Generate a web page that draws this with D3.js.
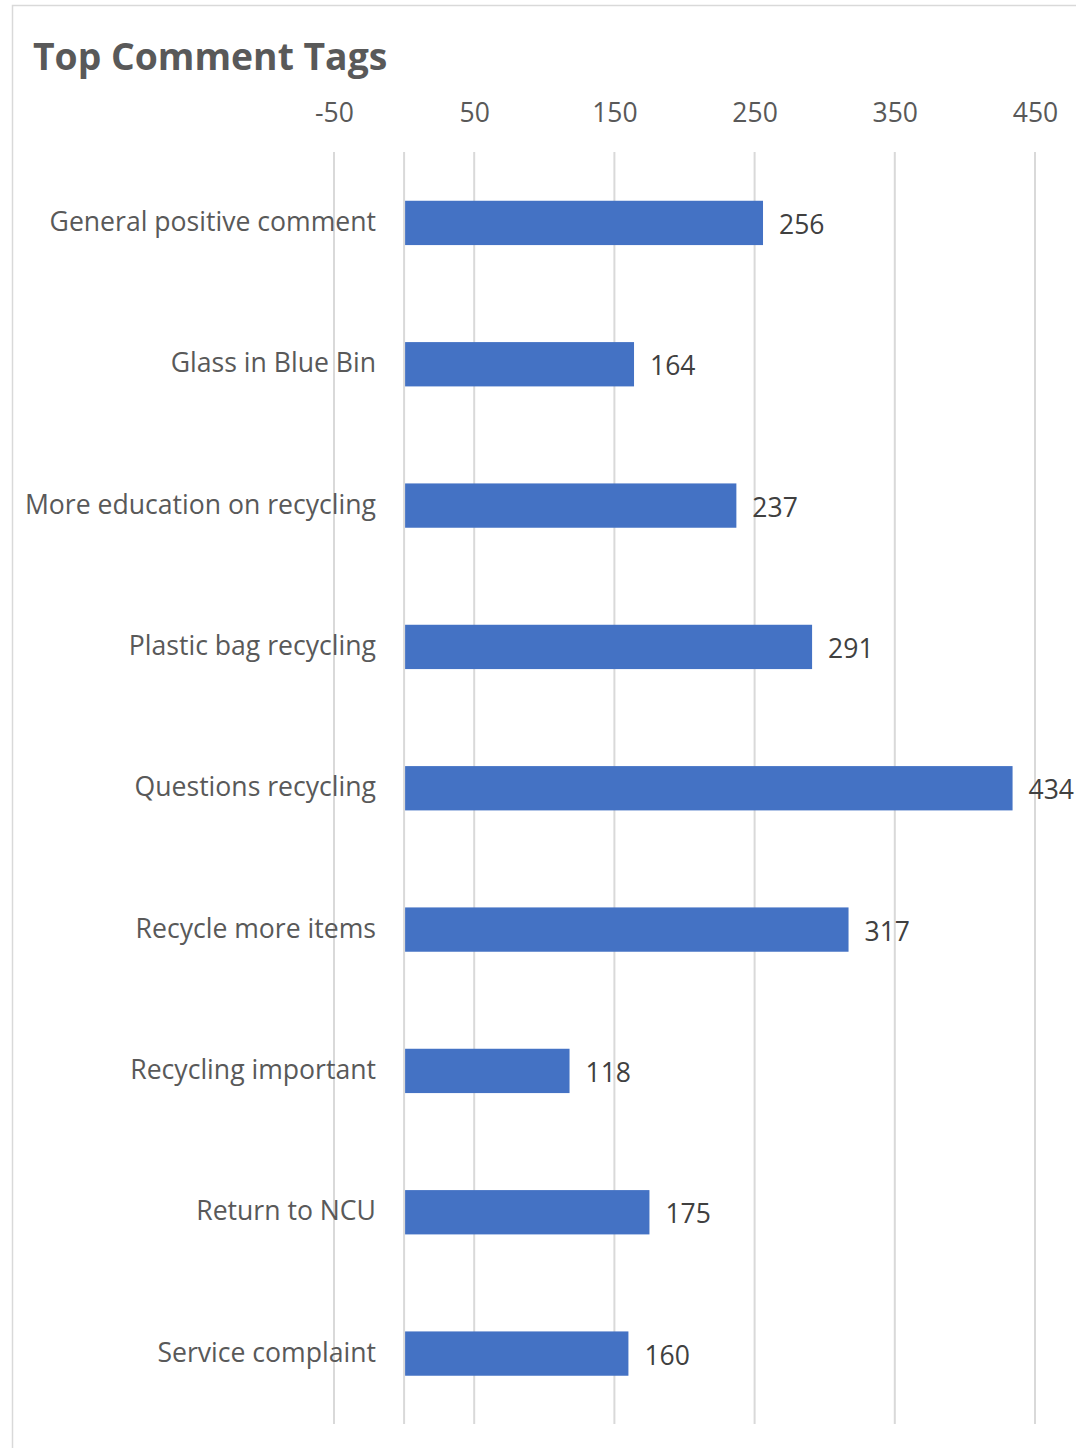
<!DOCTYPE html>
<html><head><meta charset="utf-8">
<script src="https://cdn.jsdelivr.net/npm/d3@7"></script>
<style>body{margin:0;background:#fff;}svg{display:block;}</style>
</head><body>
<script>
const categories = ["General positive comment","Glass in Blue Bin","More education on recycling","Plastic bag recycling","Questions recycling","Recycle more items","Recycling important","Return to NCU","Service complaint"];
const values = [256,164,237,291,434,317,118,175,160];
const tickValues = [-50,50,150,250,350,450];
const title = "Top Comment Tags";

const W = 1076, H = 1448;
const svg = d3.select("body").append("svg").attr("width", W).attr("height", H);
const font = "'Open Sans', sans-serif";

// chart border
svg.append("path").attr("d", `M12.5,${H} L12.5,5.5 L${W},5.5`).attr("fill","none").attr("stroke","#d9d9d9").attr("stroke-width",1.5);

svg.append("text").attr("x",33).attr("y",70).text(title)
  .attr("font-family",font).attr("font-weight",700).attr("font-size",37.3).attr("fill","#595959");

const x = d3.scaleLinear().domain([-50,450]).range([334,1035]);
const y = d3.scaleBand().domain(categories).range([152,1424]).paddingInner(0.69).paddingOuter(0.345);

// gridlines
svg.append("g").selectAll("line").data(tickValues).join("line")
  .attr("x1",d=>x(d)).attr("x2",d=>x(d)).attr("y1",152).attr("y2",1424)
  .attr("stroke","#d9d9d9").attr("stroke-width",2);
// zero axis line
svg.append("line").attr("x1",x(0)).attr("x2",x(0)).attr("y1",152).attr("y2",1424)
  .attr("stroke","#d9d9d9").attr("stroke-width",2);

// top axis
const ax = svg.append("g").attr("transform","translate(0,122)")
  .call(d3.axisTop(x).tickValues(tickValues).tickSize(0).tickPadding(0).tickFormat(d => String(d)));
ax.select(".domain").remove();
ax.selectAll("text").attr("font-family",font).attr("font-size",26.5).attr("fill","#595959").attr("dy",0);

// category labels
svg.append("g").selectAll("text").data(categories).join("text")
  .attr("x",376).attr("y",d=>y(d)+y.bandwidth()/2-1).attr("dy","0.35em")
  .attr("text-anchor","end").attr("font-family",font).attr("font-size",26.6).attr("fill","#595959")
  .text(d=>d);

// bars
svg.append("g").selectAll("rect").data(values).join("rect")
  .attr("x",x(0)+1).attr("y",(d,i)=>y(categories[i]))
  .attr("width",d=>x(d)-x(0)-1).attr("height",y.bandwidth()+0.5)
  .attr("fill","#4472c4");

// value labels
svg.append("g").selectAll("text").data(values).join("text")
  .attr("x",d=>x(d)+16).attr("y",(d,i)=>y(categories[i])+y.bandwidth()/2+2).attr("dy","0.35em")
  .attr("font-family",font).attr("font-size",26.5).attr("fill","#404040")
  .text(d=>d);
</script>
</body></html>
